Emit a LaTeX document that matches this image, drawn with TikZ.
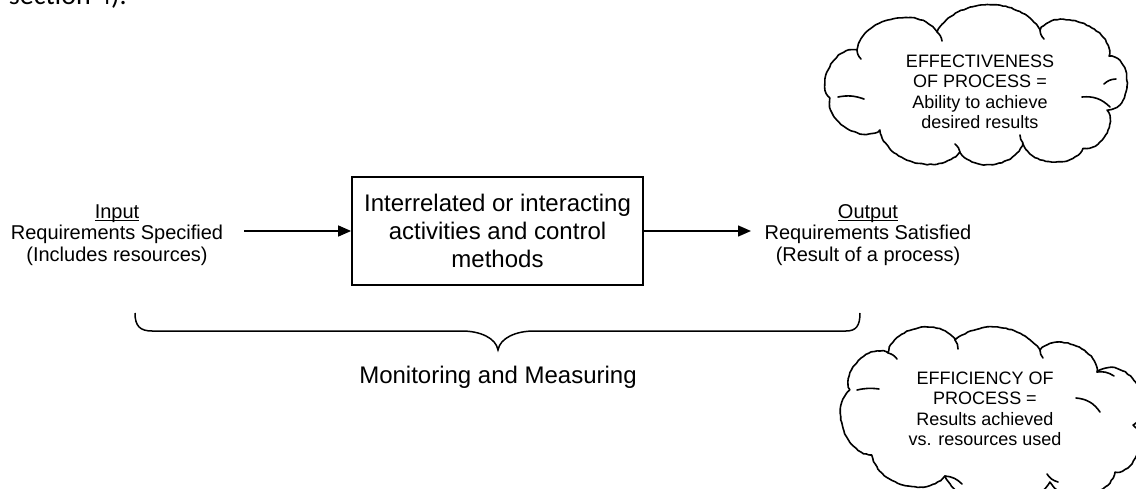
\documentclass[tikz,border=0pt]{standalone}
\usepackage{fontspec}
\setmainfont{Liberation Sans}
\newfontfamily\calib{Carlito}
\usetikzlibrary{arrows.meta,calc,decorations.pathmorphing}
\newcommand\myul[1]{\setbox0\hbox{#1}\rlap{\rule[-2.3pt]{\wd0}{0.9pt}}#1}
\begin{document}
\begin{tikzpicture}[x=1pt,y=-1pt,
  procbox/.style={draw,line width=1.8pt,minimum width=291pt,minimum height=108pt,inner sep=0pt,align=center,font=\fontsize{24}{28}\selectfont},
  sidetext/.style={align=center,inner sep=0pt,font=\fontsize{20}{21.5}\selectfont},
  arr/.style={line width=1.5pt,-{Triangle[length=13pt,width=11pt]}},
  bracestyle/.style={line width=1.5pt},
  cloudline/.style={line width=1.6pt,line join=round,decorate,decoration={random steps,segment length=3pt,amplitude=0.45pt}},
  cloudtext/.style={align=center,inner sep=0pt,font=\fontsize{18}{20.5}\selectfont},
  hook/.style={line width=1.6pt,line cap=round}]
\useasboundingbox (0,0) rectangle (1136,489);
% partial text at the top
\node[anchor=base east,inner sep=0pt,font=\calib\fontsize{28}{30}\selectfont] (sec) at (127,5) {section 4).};
% main box
\node[procbox] (box) at (497.5,231) {Interrelated or interacting\\activities and control\\methods};
% input and output texts
\node[sidetext] (inp) at (117,235) {\myul{Input}\\Requirements Specified\\(Includes resources)};
\node[sidetext] (outp) at (868,235) {\myul{Output}\\Requirements Satisfied\\(Result of a process)};
\coordinate (a1) at (244,231);
\coordinate (a2) at (751,231);
\draw[arr] (a1) -- (box.west);
\draw[arr] (box.east) -- (a2);
% brace
\coordinate (bl) at (135,313);
\coordinate (br) at (860,313);
\coordinate (btip) at (498,350);
\draw[bracestyle] (bl) .. controls (135,326) and (140,331) .. (152,331) -- (462,331)
  .. controls (480,331) and (496,338) .. (btip)
  .. controls (500,338) and (516,331) .. (534,331) -- (846,331)
  .. controls (856,331) and (860,326) .. (br);
\node[inner sep=0pt,font=\fontsize{24}{28}\selectfont] (mon) at (498,377) {Monitoring and Measuring};
% top cloud
\draw[cloudline] (830,98) to[bend left=75] (857,50) to[bend left=70] (937,32) to[bend left=60] (1040,30)
  to[bend left=80] (1109,56) to[bend left=90,looseness=1.2] (1107,110) to[bend left=70] (1083,148)
  to[bend left=70] (1023,143) to[bend left=65] (960,152) to[bend left=65] (880,130) to[bend left=70] (830,98);
\node[cloudtext] (t1) at (980,92) {EFFECTIVENESS\\OF PROCESS =\\Ability to achieve\\desired results};
\draw[hook] (838,97) to[bend left=15] (864,99);
\draw[hook] (857,50) to[bend right=20] (861,59);
\draw[hook] (937,32) to[bend left=20] (942,41);
\draw[hook] (1040,30) to[bend right=20] (1044,39);
\draw[hook] (1116,79) to[bend right=20] (1104,84);
\draw[hook] (1110,107) to[bend right=25] (1082,97);
\draw[hook] (1023,143) to[bend left=20] (1020,135);
\draw[hook] (960,152) to[bend right=20] (955,144);
% bottom cloud
\draw[cloudline] (850,390) to[bend left=75] (888,353) to[bend left=70] (955,340) to[bend left=45] (1040,350)
  to[bend left=70] (1097,372) to[bend left=90,looseness=1.4] (1133,425) to[bend left=75] (1115,472)
  to[bend left=70] (1050,482) to[bend left=60] (945,476) to[bend left=65] (872,455) to[bend left=70] (850,390);
\node[cloudtext] (t2) at (985,409) {EFFICIENCY OF\\PROCESS =\\Results achieved\\vs. resources used};
\draw[hook] (857,390) to[bend left=10] (879,389);
\draw[hook] (888,353) to[bend left=20] (897,359);
\draw[hook] (955,340) to[bend left=20] (958,349);
\draw[hook] (1040,350) to[bend right=20] (1043,358);
\draw[hook] (1097,372) to[bend left=20] (1114,376);
\draw[hook] (1100,412) to[bend right=25] (1076,398);
\draw[hook] (945,476) to[bend left=20] (962,484);
\draw[hook] (1047,474) to[bend right=20] (1058,482);
\end{tikzpicture}
\end{document}
